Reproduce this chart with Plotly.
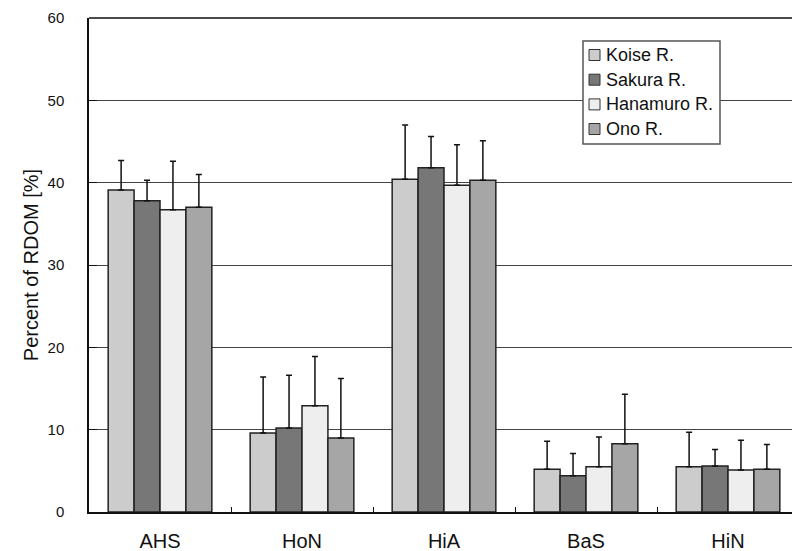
import plotly.graph_objects as go

# Fraction of riverine dissolved organic matter (RDOM) by fraction type
categories = ["AHS", "HoN", "HiA", "BaS", "HiN"]

koise = [39.1, 9.6, 40.4, 5.2, 5.5]
koise_sd = [3.6, 6.8, 6.6, 3.4, 4.2]

sakura = [37.8, 10.2, 41.8, 4.4, 5.6]
sakura_sd = [2.5, 6.4, 3.8, 2.7, 2.0]

hanamuro = [36.7, 12.9, 39.7, 5.5, 5.1]
hanamuro_sd = [5.9, 6.0, 4.9, 3.6, 3.6]

ono = [37.0, 9.0, 40.3, 8.3, 5.2]
ono_sd = [4.0, 7.2, 4.8, 6.0, 3.0]

series = [
    ("Koise R.", koise, koise_sd, "#cccccc"),
    ("Sakura R.", sakura, sakura_sd, "#777777"),
    ("Hanamuro R.", hanamuro, hanamuro_sd, "#eeeeee"),
    ("Ono R.", ono, ono_sd, "#a6a6a6"),
]

FONT = "Liberation Sans, Arial, sans-serif"

fig = go.Figure()
for name, vals, sd, color in series:
    fig.add_trace(go.Bar(
        name=name,
        x=categories,
        y=vals,
        showlegend=False,
        marker=dict(color=color, line=dict(color="#222222", width=1.5)),
        error_y=dict(type="data", array=sd, arrayminus=[0] * len(sd), symmetric=False,
                     color="#111111", thickness=1.5, width=3),
    ))

# plot spans past the right edge of the page, as in the original layout
W, H = 792, 551
left_px, right_px, top_px, bottom_px = 89, 792, 18, 512
slot_px = 142
x_end = -0.5 + (right_px - left_px) / slot_px


def px_x(x):
    return (x - left_px) / (right_px - left_px)


def px_y(y):
    return (bottom_px - y) / (bottom_px - top_px)


# compact boxed key in the upper right
shapes = [
    dict(type="line", xref="paper", yref="paper", x0=0, x1=1, y0=1, y1=1,
         line=dict(color="#111111", width=1.5)),
    dict(type="rect", xref="paper", yref="paper", layer="above",
         x0=px_x(583), x1=px_x(720), y0=px_y(144), y1=px_y(41),
         fillcolor="white", line=dict(color="#555555", width=1.5)),
]
annotations = []
row_y = [55, 79.7, 104.4, 129]
for (name, _, _, color), ry in zip(series, row_y):
    shapes.append(dict(type="rect", xref="paper", yref="paper", layer="above",
                       x0=px_x(589), x1=px_x(600), y0=px_y(ry + 5.5), y1=px_y(ry - 5.5),
                       fillcolor=color, line=dict(color="#333333", width=1)))
    annotations.append(dict(xref="paper", yref="paper", x=px_x(604), y=px_y(ry),
                            xanchor="left", yanchor="middle", showarrow=False,
                            text=name, font=dict(size=18, family=FONT, color="#111111")))

fig.update_layout(
    width=W, height=H,
    margin=dict(l=left_px, r=W - right_px, t=top_px, b=H - bottom_px),
    paper_bgcolor="white", plot_bgcolor="white",
    barmode="group", bargap=0.27, bargroupgap=0,
    font=dict(family=FONT, color="#111111"),
    showlegend=False,
    xaxis=dict(
        range=[-0.5, x_end],
        showline=True, linecolor="#111111", linewidth=1.5,
        ticks="inside", tickson="boundaries", ticklen=5, tickcolor="#111111",
        tickfont=dict(size=20),
        ticklabelstandoff=10,
        showgrid=False,
    ),
    yaxis=dict(
        range=[0, 60], dtick=10,
        showline=True, linecolor="#111111", linewidth=1.5,
        ticks="inside", ticklen=8, tickcolor="#111111",
        tickfont=dict(size=15),
        ticklabelstandoff=20,
        showgrid=True, gridcolor="#444444", gridwidth=1,
        zeroline=False,
        title=dict(text="Percent of RDOM [%]", font=dict(size=20), standoff=4),
    ),
    shapes=shapes,
    annotations=annotations,
)

fig.write_html("out.html")
